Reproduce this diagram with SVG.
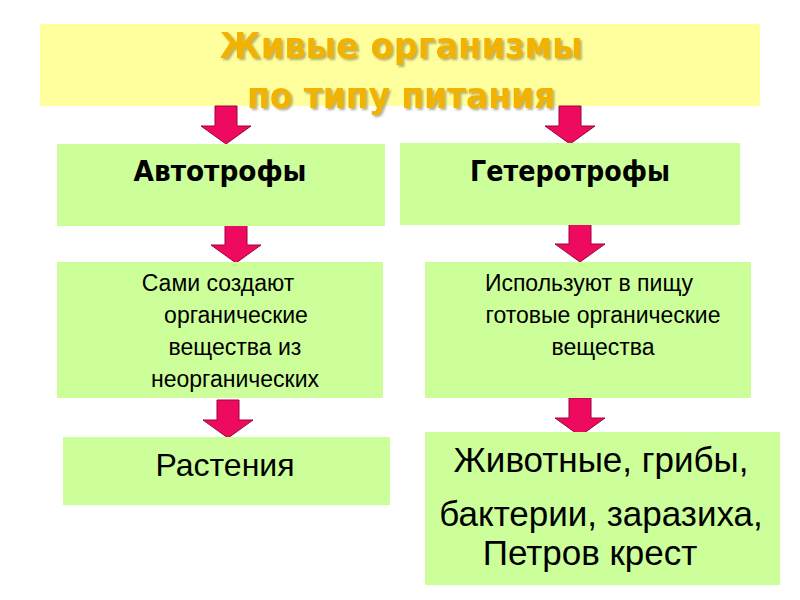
<svg xmlns="http://www.w3.org/2000/svg" width="800" height="600" viewBox="0 0 800 600">
<defs>
<style>
.box{fill:#ccff99}
.t{font-family:"Liberation Sans",Arial,sans-serif;fill:#000;text-anchor:middle}
.h{font-family:"DejaVu Sans",sans-serif;font-weight:bold;font-size:28px;fill:#000;text-anchor:middle}
.title{font-family:"DejaVu Sans",sans-serif;font-weight:bold;font-size:36px;fill:#f2b300;text-anchor:middle}
.arr{fill:#ee0a5f;stroke:#a0003a;stroke-width:1}
</style>
<filter id="sh" x="-10%" y="-30%" width="120%" height="160%"><feDropShadow dx="2" dy="2" stdDeviation="1" flood-color="#8a7a40" flood-opacity="0.6"/></filter>
<path id="a" d="M-11,0 H11 V20 H25 L0,38 L-25,20 H-11 Z"/>
</defs>
<rect width="800" height="600" fill="#fff"/>
<g id="title">
<rect x="40" y="24" width="720" height="82" fill="#ffff9e"/>
<g filter="url(#sh)">
<text class="title" x="401" y="58" textLength="363" lengthAdjust="spacingAndGlyphs">Живые организмы</text>
<text class="title" x="401" y="108" textLength="308" lengthAdjust="spacingAndGlyphs">по типу питания</text>
</g>
</g>
<g id="connectors">
<use href="#a" class="arr" x="226" y="106"/>
<use href="#a" class="arr" x="570" y="106"/>
<use href="#a" class="arr" x="236" y="225"/>
<use href="#a" class="arr" x="580" y="224"/>
<use href="#a" class="arr" x="228" y="400"/>
<use href="#a" class="arr" x="580" y="398"/>
</g>
<g id="autotrophs">
<rect class="box" x="57" y="144" width="328" height="82"/>
<text class="h" x="220" y="181" textLength="173" lengthAdjust="spacingAndGlyphs">Автотрофы</text>
</g>
<g id="heterotrophs">
<rect class="box" x="400" y="143" width="340" height="82"/>
<text class="h" x="570" y="181" textLength="200" lengthAdjust="spacingAndGlyphs">Гетеротрофы</text>
</g>
<g id="auto-desc">
<rect class="box" x="57" y="262" width="326" height="136"/>
<text class="t" font-size="23"><tspan x="218" y="291">Сами создают</tspan><tspan x="236" y="323">органические</tspan><tspan x="235" y="355">вещества из</tspan><tspan x="235" y="387">неорганических</tspan></text>
</g>
<g id="hetero-desc">
<rect class="box" x="425" y="262" width="326" height="136"/>
<text class="t" font-size="23"><tspan x="589" y="291">Используют в пищу</tspan><tspan x="603" y="323">готовые органические</tspan><tspan x="603" y="355">вещества</tspan></text>
</g>
<g id="plants">
<rect class="box" x="63" y="437" width="327" height="68"/>
<text class="t" x="225" y="476" font-size="32">Растения</text>
</g>
<g id="others">
<rect class="box" x="425" y="432" width="355" height="153"/>
<text class="t" font-size="35"><tspan x="601" y="472">Животные, грибы,</tspan><tspan x="601" y="526">бактерии, заразиха,</tspan><tspan x="590" y="565">Петров крест</tspan></text>
</g>
</svg>
